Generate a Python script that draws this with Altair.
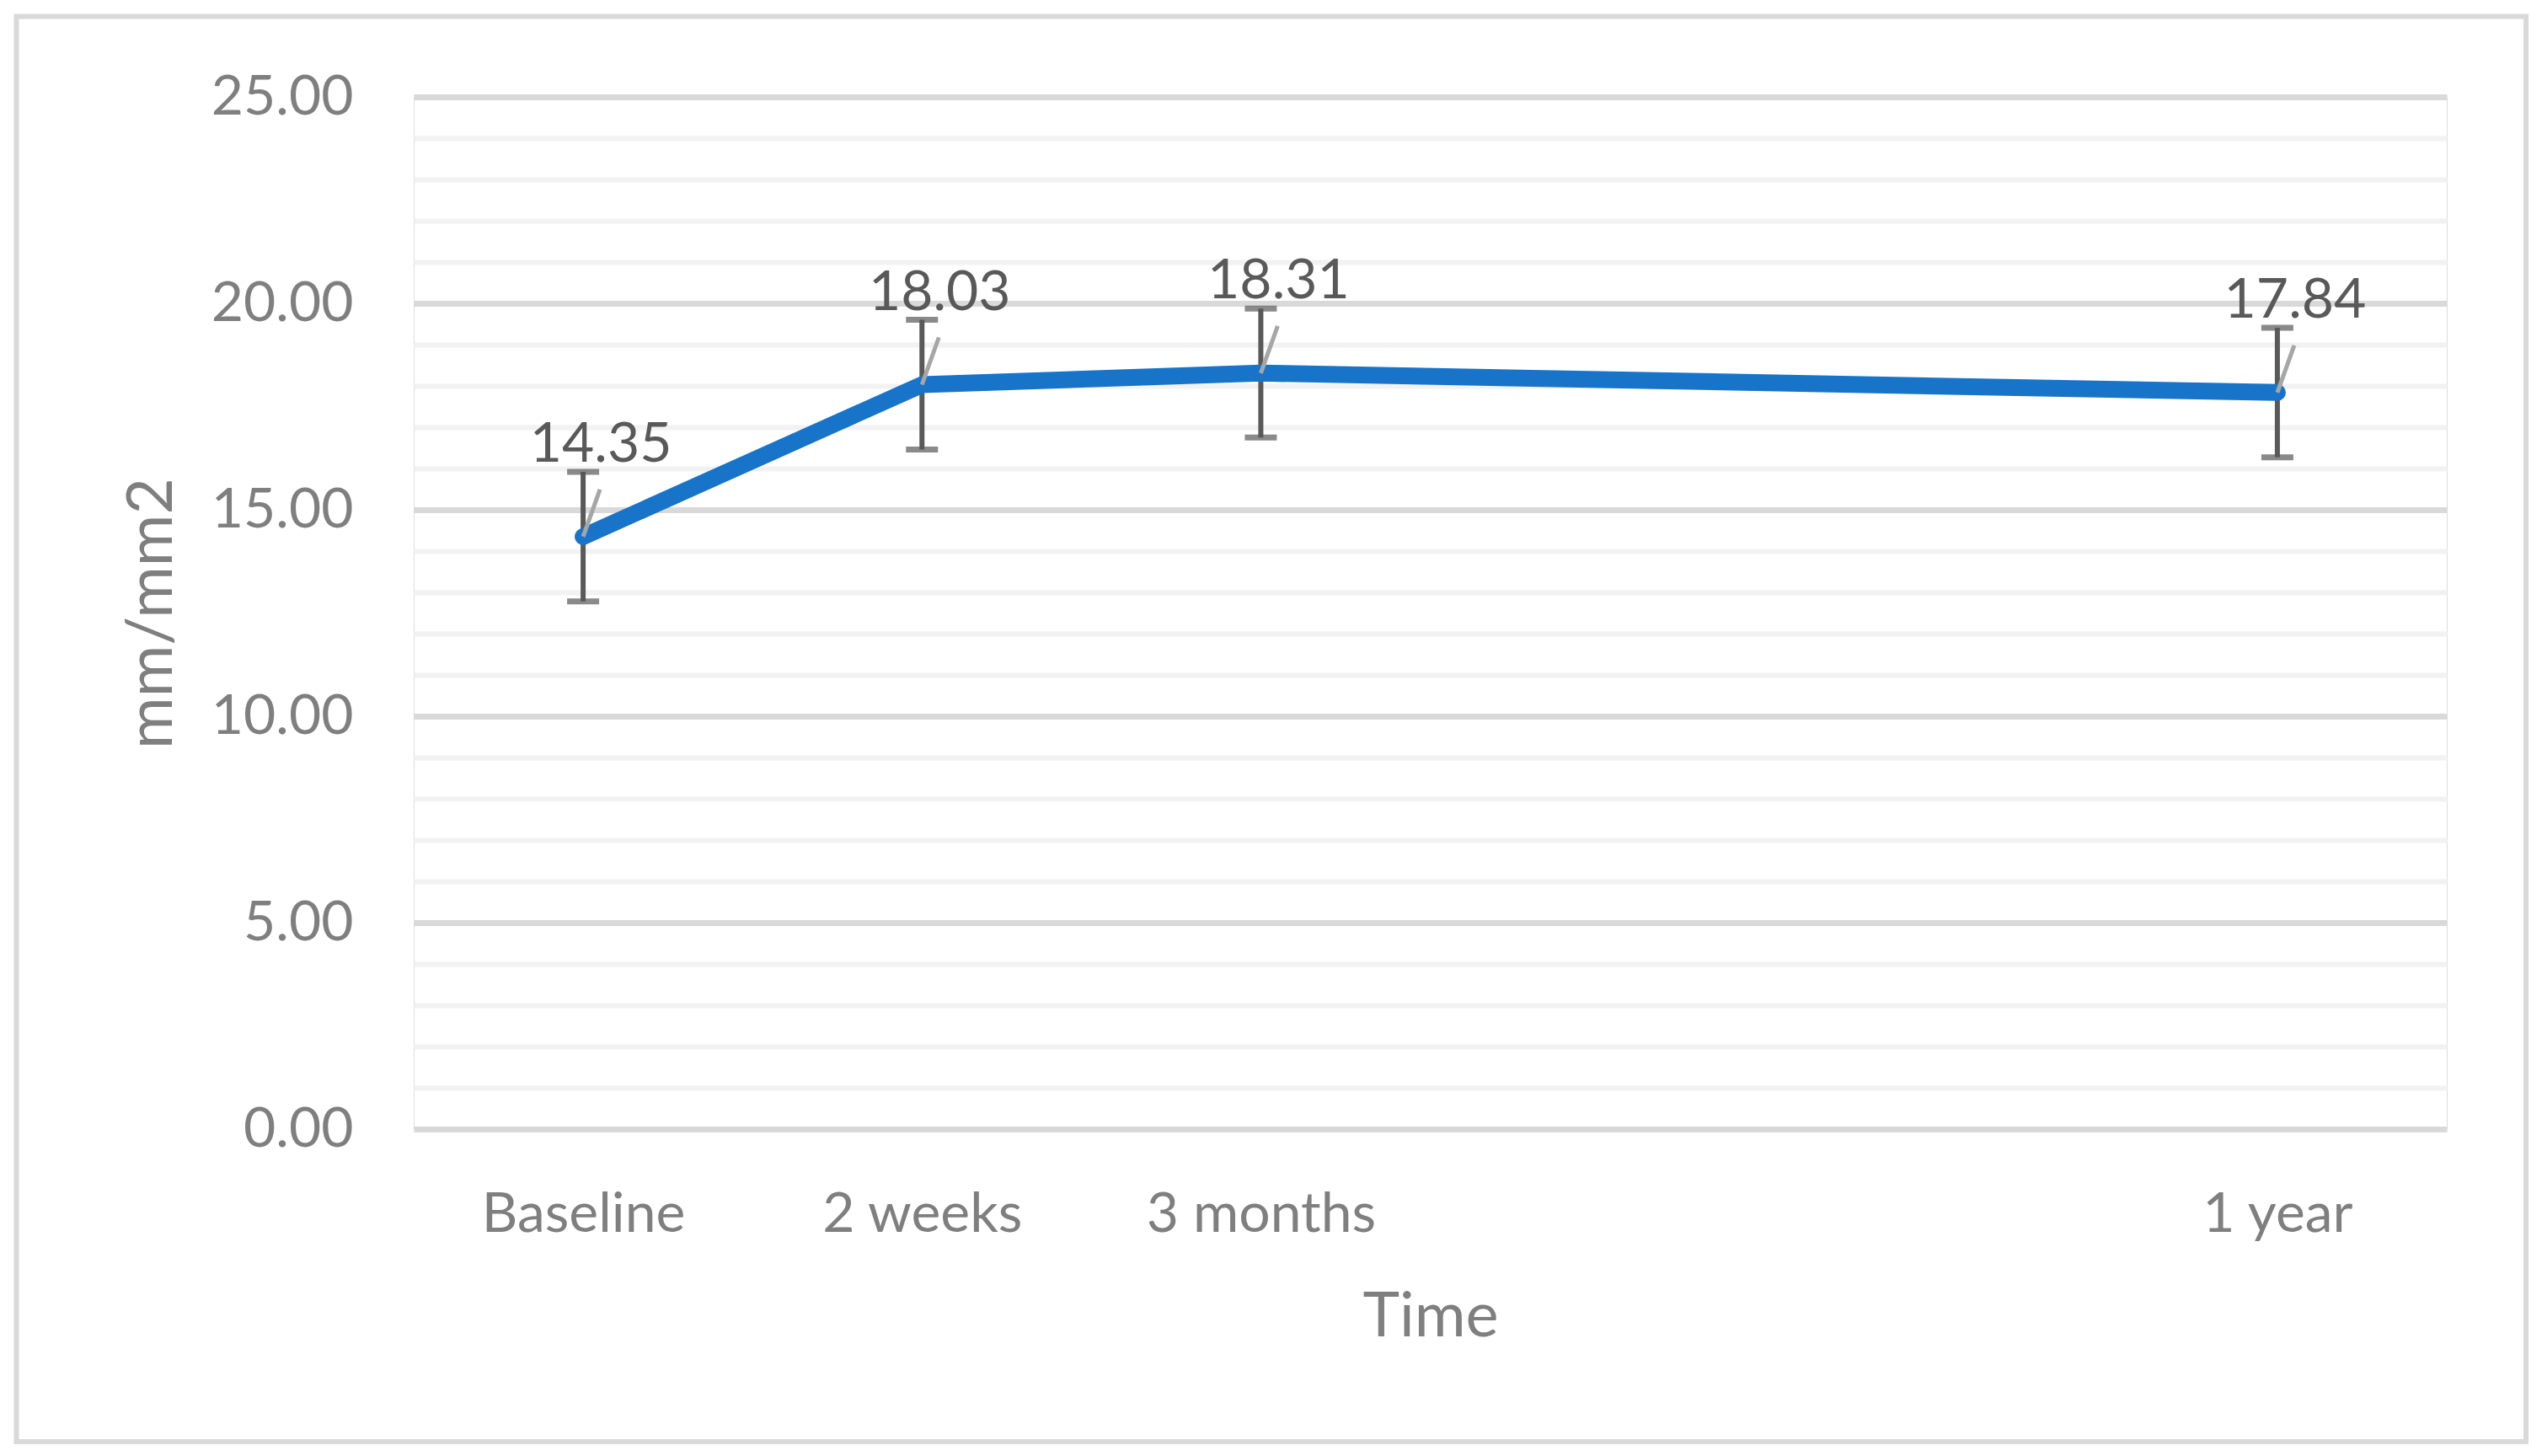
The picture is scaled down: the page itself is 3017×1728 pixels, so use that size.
import altair as alt
import pandas as pd

# ---- data ----
time_labels = ["Baseline", "2 weeks", "3 months", "1 year"]
time_positions = [0, 1, 2, 5]          # category slots on the Excel axis (slots 3 and 4 empty)
means = [14.35, 18.03, 18.31, 17.84]
errors = [1.57, 1.57, 1.56, 1.57]
y_ticks = list(range(0, 26))           # minor grid every 1, major every 5
n_slots = 6

df = pd.DataFrame({"label": time_labels, "pos": time_positions,
                   "mean": means, "err": errors})

# ---- layout / style constants ----
W, H = 2413, 1225
PAD_L, PAD_T, PAD_R, PAD_B = 483, 107, 105, 380
FONT = "Lato"
AXIS_GREY = "#7f7f7f"
DARK = "#595959"
BLUE = "#1874c9"

slot_names = [""] * n_slots
for p, l in zip(time_positions, time_labels):
    slot_names[p] = l
label_expr = "[" + ",".join("'%s'" % s for s in slot_names) + "][datum.value]"

x_axis = alt.Axis(values=time_positions, labelExpr=label_expr, title="Time",
                  grid=False, ticks=False, domain=False,
                  labelLimit=0, labelOverlap=False,
                  labelFont=FONT, labelFontSize=66, labelColor=AXIS_GREY,
                  labelBaseline="alphabetic", labelPadding=121,
                  titleFont=FONT, titleFontSize=74, titleColor=AXIS_GREY,
                  titleFontWeight="normal", titleBaseline="alphabetic",
                  titleY=245, titleX=W / 2, titleAlign="center")
y_axis = alt.Axis(values=y_ticks,
                  labelExpr="datum.value % 5 === 0 ? format(datum.value, '.2f') : ''",
                  title="mm/mm2", ticks=False, domain=False,
                  labelLimit=0, labelOverlap=False,
                  gridColor={"condition": {"test": "datum.value % 5 === 0", "value": "#d9d9d9"},
                             "value": "#f2f2f2"},
                  gridWidth={"condition": {"test": "datum.value % 5 === 0", "value": 7},
                             "value": 6},
                  labelFont=FONT, labelFontSize=66, labelColor=AXIS_GREY,
                  labelPadding=72, labelBaseline="middle",
                  titleFont=FONT, titleFontSize=75, titleColor=AXIS_GREY,
                  titleFontWeight="normal", titleAngle=-90,
                  titleBaseline="alphabetic", titleAlign="center",
                  titleX=-288, titleY=H / 2)

x_scale = alt.Scale(domain=[-0.5, n_slots - 0.5], nice=False, zero=False)
y_scale = alt.Scale(domain=[0, 25], nice=False)

X = alt.X("pos:Q", scale=x_scale, axis=x_axis)
Y = alt.Y("mean:Q", scale=y_scale, axis=y_axis)

base = alt.Chart(df)

# outer chart frame (decorative)
frame = alt.Chart(pd.DataFrame({"k": [0]})).mark_rect(
    fill=None, stroke="#d9d9d9", strokeWidth=6
).encode(x=alt.value(-471.5), x2=alt.value(W + 94), y=alt.value(-95.5), y2=alt.value(H + 371))

err = base.transform_calculate(lo="datum.mean - datum.err", hi="datum.mean + datum.err")

err_rule = err.mark_rule(color=DARK, strokeWidth=6).encode(
    x=X, y=alt.Y("lo:Q", scale=y_scale, axis=y_axis), y2="hi:Q")

err_caps = err.transform_fold(["lo", "hi"], as_=["end", "val"]).mark_tick(
    orient="horizontal", size=38, thickness=7, color=DARK
).encode(x=X, y=alt.Y("val:Q", scale=y_scale, axis=y_axis))

line = base.mark_line(color=BLUE, strokeWidth=20, strokeCap="round",
                      strokeJoin="round").encode(x=X, y=Y)

leader = base.mark_rule(color="#a6a6a6", strokeWidth=5, x2Offset=20, y2Offset=-56).encode(
    x=X, y=Y, x2="pos:Q", y2="mean:Q")

labels = base.mark_text(font=FONT, fontSize=66, color=DARK, align="center",
                        baseline="alphabetic", dx=21, dy=-89).encode(
    x=X, y=Y, text=alt.Text("mean:Q", format=".2f"))

chart = alt.layer(frame, err_rule, err_caps, line, leader, labels).properties(
    width=W, height=H,
    padding={"left": PAD_L, "top": PAD_T, "right": PAD_R, "bottom": PAD_B},
    autosize=alt.AutoSizeParams(type="none"),
).configure_view(stroke=None).configure(background="white")

chart.save("out.html", embed_options={"renderer": "svg", "actions": False})
